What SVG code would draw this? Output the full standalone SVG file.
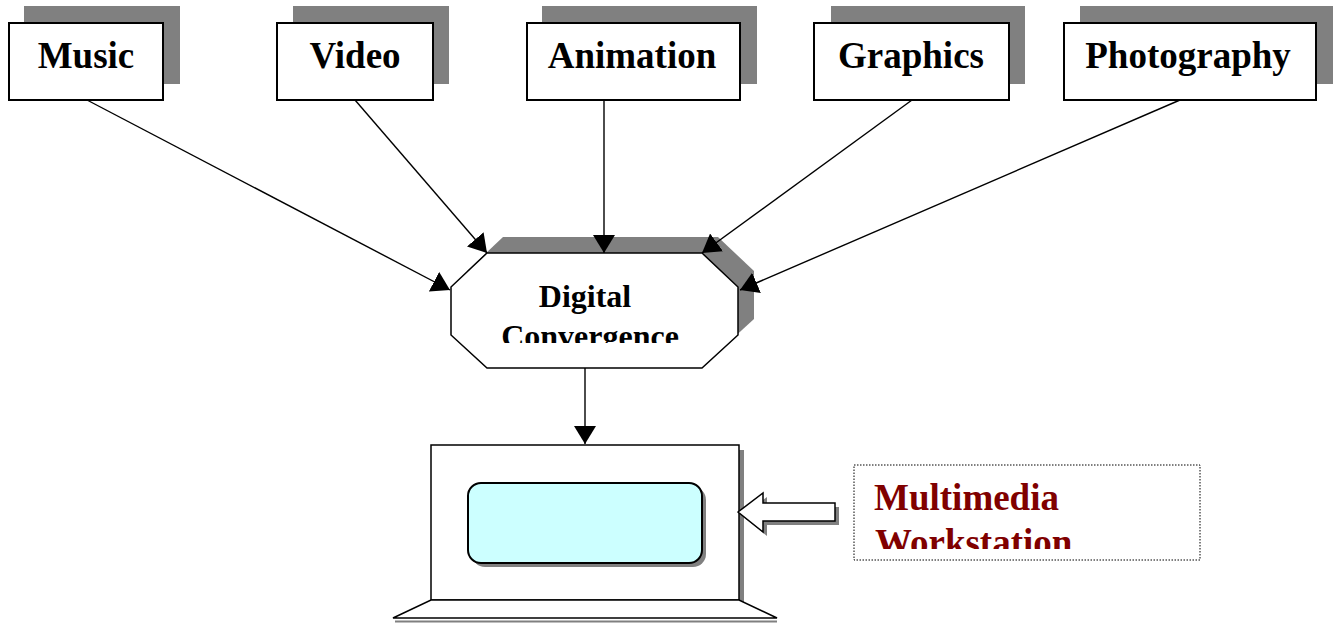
<svg xmlns="http://www.w3.org/2000/svg" width="1334" height="624" viewBox="0 0 1334 624">
<style>
.shadow{fill:#808080;stroke:none}
.box{fill:#ffffff;stroke:#000000;stroke-width:2}
.lbl{font-family:"Liberation Serif","Times New Roman",serif;font-weight:bold;font-size:37px;fill:#000000;text-anchor:middle}
.oct{font-family:"Liberation Serif","Times New Roman",serif;font-weight:bold;font-size:32px;fill:#000000;text-anchor:middle}
.mw{font-family:"Liberation Serif","Times New Roman",serif;font-weight:bold;font-size:37px;fill:#800000}
.conn{stroke:#000000;stroke-width:1.4;fill:none;marker-end:url(#ah)}
</style>
<defs>
<marker id="ah" viewBox="0 0 18 22" refX="18" refY="11" markerWidth="18" markerHeight="22" markerUnits="userSpaceOnUse" orient="auto">
<path d="M0,0 L18,11 L0,22 z" fill="#000000"/>
</marker>
<clipPath id="clipOct"><rect x="440" y="260" width="300" height="83"/></clipPath>
<clipPath id="clipMW"><rect x="856" y="467" width="342" height="82"/></clipPath>
</defs>

<g id="music">
<rect class="shadow" x="24" y="6" width="156" height="78"/>
<rect class="box" x="9" y="23" width="154" height="77"/>
<text class="lbl" x="86" y="68">Music</text>
</g>
<g id="video">
<rect class="shadow" x="293" y="6" width="156" height="78"/>
<rect class="box" x="277" y="23" width="156" height="77"/>
<text class="lbl" x="355" y="68">Video</text>
</g>
<g id="animation">
<rect class="shadow" x="542" y="6" width="215" height="78"/>
<rect class="box" x="527" y="23" width="213" height="77"/>
<text class="lbl" x="632" y="68">Animation</text>
</g>
<g id="graphics">
<rect class="shadow" x="831" y="6" width="194" height="78"/>
<rect class="box" x="814" y="23" width="195" height="77"/>
<text class="lbl" x="911" y="68">Graphics</text>
</g>
<g id="photography">
<rect class="shadow" x="1080" y="6" width="253" height="78"/>
<rect class="box" x="1064" y="23" width="252" height="77"/>
<text class="lbl" x="1188" y="68">Photography</text>
</g>

<g id="digital-convergence">
<polygon class="shadow" points="503,237 718,237 754,271 754,319 718,352 503,352 467,319 467,271"/>
<polygon fill="#ffffff" stroke="#000000" stroke-width="1.5" points="487,253 702,253 738,287 738,335 702,368 487,368 451,335 451,287"/>
<g clip-path="url(#clipOct)">
<text class="oct" x="585" y="307">Digital</text>
<text class="oct" x="590" y="347">Convergence</text>
</g>
</g>

<g id="workstation">
<rect class="shadow" x="436" y="450" width="308" height="155"/>
<rect fill="#ffffff" stroke="#000000" stroke-width="1.5" x="431" y="445" width="308" height="155"/>
<rect class="shadow" x="472" y="487" width="234" height="80" rx="13"/>
<rect fill="#ccffff" stroke="#000000" stroke-width="2" x="468" y="483" width="234" height="80" rx="13"/>
<line x1="395" y1="621.5" x2="777" y2="621.5" stroke="#808080" stroke-width="2"/>
<polygon fill="#ffffff" stroke="#000000" stroke-width="1.5" points="431,600 739,600 777,618 393,618"/>
</g>

<g id="pointer-arrow">
<polygon class="shadow" points="742,516 767,497 767,507 839,507 839,525 767,525 767,536"/>
<polygon fill="#ffffff" stroke="#000000" stroke-width="1.5" points="738,512 763,493 763,503 835,503 835,521 763,521 763,532"/>
</g>

<g id="multimedia-label">
<rect x="854" y="465" width="346" height="95" fill="#ffffff" stroke="#000000" stroke-width="1" stroke-dasharray="1.5,1.5"/>
<g clip-path="url(#clipMW)">
<text class="mw" x="874" y="510">Multimedia</text>
<text class="mw" x="875" y="555">Workstation</text>
</g>
</g>

<g id="connectors">
<line class="conn" x1="87" y1="100" x2="450" y2="290"/>
<line class="conn" x1="355" y1="100" x2="487" y2="253"/>
<line class="conn" x1="604" y1="100" x2="604" y2="253"/>
<line class="conn" x1="912" y1="100" x2="702" y2="253"/>
<line class="conn" x1="1180" y1="100" x2="740" y2="290"/>
<line class="conn" x1="585" y1="368" x2="585" y2="444"/>
</g>
</svg>
